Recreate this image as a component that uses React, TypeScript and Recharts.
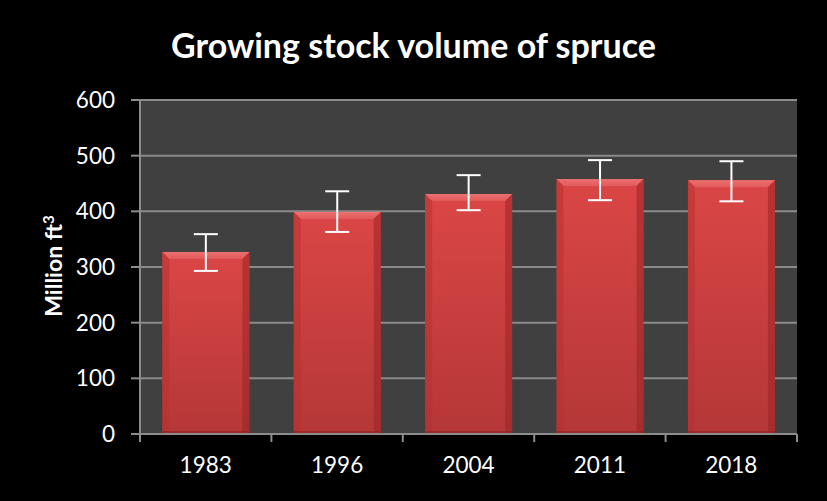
import React from 'react';
import { BarChart, Bar, XAxis, YAxis, CartesianGrid, ErrorBar } from 'recharts';

const years = ['1983', '1996', '2004', '2011', '2018'];
const volumes = [327, 399, 431, 458, 456];
const errLow = [34, 36, 29, 38, 38];
const errHigh = [32, 37, 34, 34, 34];
const yTicks = [0, 100, 200, 300, 400, 500, 600];

const data = years.map((year, i) => ({
  year,
  volume: volumes[i],
  err: [errLow[i], errHigh[i]],
}));

const W = 827;
const H = 501;
const M = { top: 100, right: 30, bottom: 37, left: 80 };
const Y_W = 60;
const BAND = (W - M.left - M.right - Y_W) / years.length;

const FONT = 'Lato, "Open Sans", sans-serif';

const BeveledBar = (props: any) => {
  const { x, y, width, height } = props;
  if (!height || height <= 0) return null;
  const b = 7;
  return (
    <g>
      <rect x={x} y={y} width={width} height={height} fill="url(#barBody)" />
      <polygon
        points={`${x},${y} ${x + width},${y} ${x + width - b},${y + b} ${x + b},${y + b}`}
        fill="url(#barTop)"
      />
      <polygon
        points={`${x},${y} ${x + b},${y + b} ${x + b},${y + height - 3} ${x},${y + height}`}
        fill="#b83232"
        opacity={0.55}
      />
      <polygon
        points={`${x + width},${y} ${x + width - b},${y + b} ${x + width - b},${y + height - 3} ${x + width},${y + height}`}
        fill="#9a2424"
        opacity={0.55}
      />
      <rect x={x} y={y + height - 3} width={width} height={3} fill="#8e2222" opacity={0.6} />
    </g>
  );
};

const XTick = (props: any) => {
  const { x, y, payload, index } = props;
  const half = BAND / 2;
  return (
    <g>
      <line x1={x - half} y1={y - 8} x2={x - half} y2={y} stroke="#8c8c8c" strokeWidth={2} />
      {index === years.length - 1 && (
        <line x1={x + half} y1={y - 8} x2={x + half} y2={y} stroke="#8c8c8c" strokeWidth={2} />
      )}
      <text x={x} y={y + 31} textAnchor="middle" fill="#ffffff" fontSize={22.5} fontFamily={FONT}>
        {payload.value}
      </text>
    </g>
  );
};

export default function App() {
  return (
    <div style={{ position: 'absolute', left: 0, top: 0, width: W, height: H, background: '#000000' }}>
      <div
        style={{
          position: 'absolute',
          top: 23,
          left: 0,
          width: W,
          textAlign: 'center',
          color: '#ffffff',
          fontFamily: FONT,
          fontWeight: 700,
          fontSize: 34,
          lineHeight: '44px',
        }}
      >
        Growing stock volume of spruce
      </div>
      <div
        style={{
          position: 'absolute',
          left: 53,
          top: 266,
          transform: 'translate(-50%, -50%) rotate(-90deg)',
          color: '#ffffff',
          fontFamily: FONT,
          fontWeight: 700,
          fontSize: 23,
          whiteSpace: 'nowrap',
        }}
      >
        Million ft<sup style={{ fontSize: 15 }}>3</sup>
      </div>
      <BarChart width={W} height={H} data={data} margin={M} barCategoryGap="17%">
        <defs>
          <linearGradient id="barBody" x1="0" y1="0" x2="0" y2="1">
            <stop offset="0%" stopColor="#db4646" />
            <stop offset="100%" stopColor="#b53737" />
          </linearGradient>
          <linearGradient id="barTop" x1="0" y1="0" x2="0" y2="1">
            <stop offset="0%" stopColor="#ec7070" />
            <stop offset="100%" stopColor="#e25a5a" />
          </linearGradient>
        </defs>
        <CartesianGrid vertical={false} stroke="#8a8a8a" strokeWidth={2} fill="#404040" />
        <XAxis
          dataKey="year"
          height={30}
          axisLine={{ stroke: '#8c8c8c', strokeWidth: 2 }}
          tickLine={false}
          tick={<XTick />}
          interval={0}
        />
        <YAxis
          domain={[0, 600]}
          ticks={yTicks}
          width={Y_W}
          axisLine={{ stroke: '#8c8c8c', strokeWidth: 2 }}
          tickLine={{ stroke: '#8c8c8c', strokeWidth: 2 }}
          tickSize={9}
          tick={{ fill: '#ffffff', fontSize: 22.5, fontFamily: FONT, dx: -14 }}
        />
        <Bar dataKey="volume" shape={<BeveledBar />} isAnimationActive={false}>
          <ErrorBar dataKey="err" width={12} stroke="#ffffff" strokeWidth={2} direction="y" />
        </Bar>
      </BarChart>
    </div>
  );
}
